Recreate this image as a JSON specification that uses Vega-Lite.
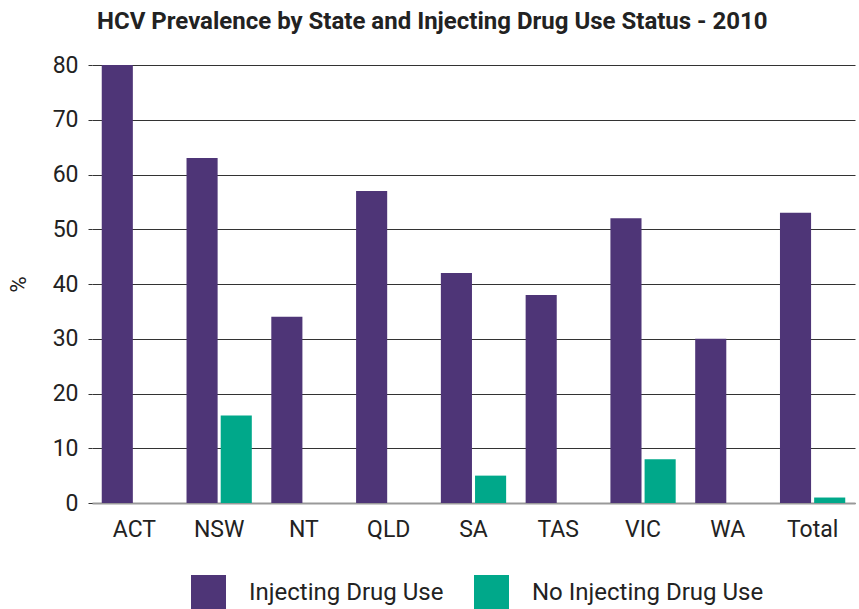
{
  "$schema": "https://vega.github.io/schema/vega-lite/v6.json",
  "autosize": {"type": "none"},
  "padding": {"left": 92, "top": 65, "right": 4, "bottom": 106},
  "width": 763,
  "height": 438,
  "background": "white",
  "title": {
    "text": "HCV Prevalence by State and Injecting Drug Use Status - 2010",
    "anchor": "start",
    "frame": "group",
    "dx": 5,
    "offset": 20,
    "font": "Roboto",
    "fontSize": 24,
    "fontWeight": "bold",
    "color": "#222222"
  },
  "data": {
    "values": [
      {"state": "ACT", "group": "Injecting Drug Use", "value": 80},
      {"state": "ACT", "group": "No Injecting Drug Use", "value": 0},
      {"state": "NSW", "group": "Injecting Drug Use", "value": 63},
      {"state": "NSW", "group": "No Injecting Drug Use", "value": 16},
      {"state": "NT", "group": "Injecting Drug Use", "value": 34},
      {"state": "NT", "group": "No Injecting Drug Use", "value": 0},
      {"state": "QLD", "group": "Injecting Drug Use", "value": 57},
      {"state": "QLD", "group": "No Injecting Drug Use", "value": 0},
      {"state": "SA", "group": "Injecting Drug Use", "value": 42},
      {"state": "SA", "group": "No Injecting Drug Use", "value": 5},
      {"state": "TAS", "group": "Injecting Drug Use", "value": 38},
      {"state": "TAS", "group": "No Injecting Drug Use", "value": 0},
      {"state": "VIC", "group": "Injecting Drug Use", "value": 52},
      {"state": "VIC", "group": "No Injecting Drug Use", "value": 8},
      {"state": "WA", "group": "Injecting Drug Use", "value": 30},
      {"state": "WA", "group": "No Injecting Drug Use", "value": 0},
      {"state": "Total", "group": "Injecting Drug Use", "value": 53},
      {"state": "Total", "group": "No Injecting Drug Use", "value": 1}
    ]
  },
  "mark": {"type": "bar"},
  "encoding": {
    "x": {
      "field": "state",
      "type": "nominal",
      "sort": null,
      "scale": {"paddingInner": 0.23, "paddingOuter": 0.115},
      "axis": {
        "title": null,
        "labelAngle": 0,
        "labelFont": "Roboto",
        "labelFontSize": 23,
        "labelColor": "#222222",
        "labelPadding": 15,
        "ticks": false,
        "domainColor": "#999999",
        "domainWidth": 2,
        "grid": false
      }
    },
    "xOffset": {
      "field": "group",
      "type": "nominal",
      "scale": {"paddingInner": 0.09}
    },
    "y": {
      "field": "value",
      "type": "quantitative",
      "scale": {"domain": [0, 80]},
      "axis": {
        "title": "%",
        "titleFont": "Roboto",
        "titleFontSize": 22,
        "titleFontWeight": "normal",
        "titleColor": "#222222",
        "titlePadding": 22,
        "values": [0, 10, 20, 30, 40, 50, 60, 70, 80],
        "labelFont": "Roboto",
        "labelFontSize": 23,
        "labelColor": "#222222",
        "labelPadding": 10,
        "grid": true,
        "gridColor": "#333333",
        "gridWidth": 1,
        "domain": false,
        "ticks": true,
        "tickSize": 4,
        "tickColor": "#333333"
      }
    },
    "color": {
      "field": "group",
      "type": "nominal",
      "scale": {
        "domain": ["Injecting Drug Use", "No Injecting Drug Use"],
        "range": ["#4E3577", "#00A88A"]
      },
      "legend": {
        "title": null,
        "orient": "none",
        "direction": "horizontal",
        "legendX": 99,
        "legendY": 510,
        "symbolType": "square",
        "symbolSize": 1225,
        "symbolStrokeWidth": 0,
        "labelFont": "Roboto",
        "labelFontSize": 24,
        "labelColor": "#222222",
        "labelOffset": 23,
        "columnPadding": 30,
        "labelLimit": 400
      }
    }
  },
  "config": {
    "view": {"stroke": null}
  }
}
